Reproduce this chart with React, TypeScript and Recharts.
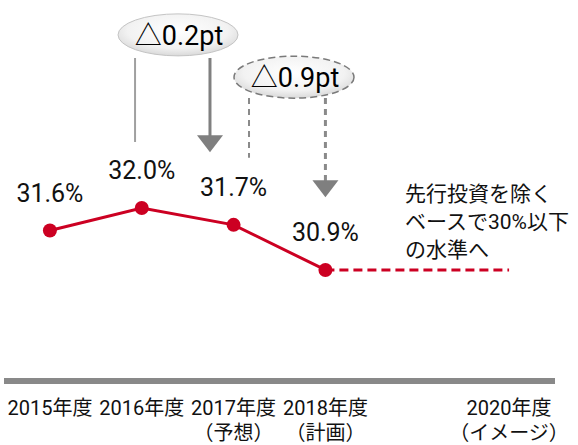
import { LineChart, Line, XAxis, YAxis, LabelList, ReferenceLine, ReferenceDot } from 'recharts';

const years = ['2015年度', '2016年度', '2017年度', '2018年度', '2020年度'];
const yearNotes = ['', '', '（予想）', '（計画）', '（イメージ）'];
const yearIndex = [0, 1, 2, 3, 5];
const ratio = [31.6, 32.0, 31.7, 30.9, null];
const target = [null, null, null, 30.9, 30.9];

const dropLabels = ['△0.2pt', '△0.9pt'];
const targetNote = ['先行投資を除く', 'ベースで30%以下', 'の水準へ'];

const RED = '#CC0022';
const FONT = "Roboto, 'Noto Sans CJK JP', sans-serif";

const data = years.map((year, i) => ({
  idx: yearIndex[i],
  year,
  note: yearNotes[i],
  ratio: ratio[i],
  target: target[i],
}));

const YearTick = (props: any) => {
  const { x, y, payload } = props;
  const i = yearIndex.indexOf(payload.value);
  if (i < 0) return null;
  return (
    <g fontFamily={FONT} fontSize={20} fill="#111">
      <text x={x} y={y + 27} textAnchor="middle" dominantBaseline="central">
        {years[i]}
      </text>
      {yearNotes[i] && (
        <text x={x} y={y + 52} textAnchor="middle" dominantBaseline="central">
          {yearNotes[i]}
        </text>
      )}
    </g>
  );
};

const ValueLabel = (props: any) => {
  const { x, y, value } = props;
  if (value == null) return null;
  return (
    <text x={x} y={y - 37} textAnchor="middle" dominantBaseline="central" fontFamily={FONT} fontSize={25} fill="#111">
      {`${Number(value).toFixed(1)}%`}
    </text>
  );
};

const bubble = (text: string, id: string, dashed: boolean) => (props: any) => {
  const { cx, cy } = props;
  return (
    <g>
      <defs>
        <radialGradient id={id} cx="50%" cy="40%" r="60%">
          <stop offset="0%" stopColor="#ffffff" />
          <stop offset="70%" stopColor="#f2f2f2" />
          <stop offset="100%" stopColor="#d9d9d9" />
        </radialGradient>
      </defs>
      <ellipse
        cx={cx}
        cy={cy}
        rx={60}
        ry={21}
        fill={`url(#${id})`}
        stroke={dashed ? '#7a7a7a' : '#c4c4c4'}
        strokeWidth={dashed ? 1.5 : 1}
        strokeDasharray={dashed ? '7 4' : undefined}
      />
      <text x={cx + 1} y={cy + 1} textAnchor="middle" dominantBaseline="central" fontFamily={FONT} fontSize={27} fill="#000">
        {text}
      </text>
    </g>
  );
};

const arrowHead = (props: any) => {
  const { cx, cy } = props;
  return <polygon points={`${cx - 13},${cy - 17} ${cx + 13},${cy - 17} ${cx},${cy}`} fill="#7f7f7f" />;
};

const noteBlock = (props: any) => {
  const { cx, cy } = props;
  return (
    <g fontFamily={FONT} fontSize={21} fill="#111">
      {targetNote.map((line, i) => (
        <text key={line} x={cx} y={cy + i * 28} dominantBaseline="central">
          {line}
        </text>
      ))}
    </g>
  );
};

export default function App() {
  return (
    <div style={{ position: 'absolute', left: 0, top: 0, width: 578, height: 445, background: '#fff' }}>
      <LineChart width={578} height={445} data={data} margin={{ top: 5, right: 23, bottom: 0, left: 4 }}>
        <XAxis
          dataKey="idx"
          type="number"
          domain={[-0.5, 5.5]}
          ticks={yearIndex}
          interval={0}
          height={64}
          tickSize={0}
          tickMargin={0}
          tickLine={false}
          axisLine={{ stroke: '#898989', strokeWidth: 6 }}
          tick={<YearTick />}
        />
        <YAxis hide domain={[28.93, 35.6]} />

        {/* △0.2pt : solid */}
        <ReferenceLine segment={[{ x: 0.927, y: 34.66 }, { x: 0.927, y: 33.17 }]} stroke="#a0a0a0" strokeWidth={2} />
        <ReferenceLine segment={[{ x: 1.743, y: 34.66 }, { x: 1.743, y: 33.26 }]} stroke="#808080" strokeWidth={3} />
        <ReferenceDot x={1.743} y={32.99} shape={arrowHead} />
        <ReferenceDot x={1.395} y={35.07} shape={bubble(dropLabels[0], 'bubA', false)} />

        {/* △0.9pt : dashed */}
        <ReferenceLine segment={[{ x: 2.168, y: 33.95 }, { x: 2.168, y: 32.89 }]} stroke="#8a8a8a" strokeWidth={2} strokeDasharray="6 5" />
        <ReferenceLine segment={[{ x: 3.0, y: 33.95 }, { x: 3.0, y: 32.47 }]} stroke="#8a8a8a" strokeWidth={3} strokeDasharray="6 5" />
        <ReferenceDot x={3.0} y={32.19} shape={arrowHead} />
        <ReferenceDot x={2.658} y={34.32} shape={bubble(dropLabels[1], 'bubB', true)} />

        <ReferenceDot x={3.867} y={32.25} shape={noteBlock} />

        <Line
          dataKey="target"
          stroke={RED}
          strokeWidth={3}
          strokeDasharray="9 5"
          dot={false}
          activeDot={false}
          isAnimationActive={false}
        />
        <Line
          dataKey="ratio"
          stroke={RED}
          strokeWidth={3}
          dot={{ r: 7, fill: RED, stroke: RED, strokeWidth: 0 }}
          activeDot={false}
          isAnimationActive={false}
        >
          <LabelList dataKey="ratio" content={<ValueLabel />} />
        </Line>
      </LineChart>
    </div>
  );
}
